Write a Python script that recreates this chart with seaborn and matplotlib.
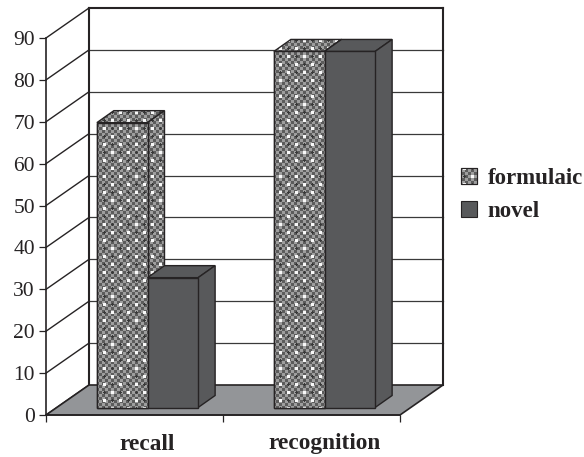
import numpy as np
import pandas as pd
import matplotlib
matplotlib.use("Agg")
import matplotlib.pyplot as plt
from matplotlib.lines import Line2D
from matplotlib.patches import Polygon, Patch
from matplotlib.transforms import Affine2D, IdentityTransform
import seaborn as sns

categories = ["recall", "recognition"]
series = ["formulaic", "novel"]
formulaic_values = [68, 85]
novel_values = [31, 85]
y_ticks = list(range(0, 100, 10))

INK = "#262324"
DARK = "#58595b"
FLOOR = "#939598"

# Oblique projection offsets, in pixels: back wall, bar depth, bar inset on the floor
WALL = (43, 30)
DEPTH = (17, 12)
INSET = (13, 7.5)

sns.set_theme(style="white")
plt.rcParams["font.family"] = ["Liberation Serif", "DejaVu Serif"]

W, H = 584, 457
fig = plt.figure(figsize=(W / 100, H / 100), dpi=100)
ax = fig.add_axes([46 / W, (H - 415) / H, 354 / W, 377 / H])
ax.patch.set_alpha(0)

df = pd.DataFrame({
    "category": categories * 2,
    "series": [series[0]] * 2 + [series[1]] * 2,
    "value": formulaic_values + novel_values,
})
sns.barplot(data=df, x="category", y="value", hue="series", hue_order=series,
            order=categories, palette=["#a0a0a0", DARK], saturation=1,
            width=0.572, gap=0, legend=False, ax=ax)
ax.set_xlim(-0.5, 1.5)
ax.set_ylim(0, 90)
ax.set_yticks(y_ticks)
ax.set_xticks([-0.5, 0.5, 1.5], labels=["", "", ""])
ax.set_xlabel("")
ax.set_ylabel("")
for side in ("top", "right"):
    ax.spines[side].set_visible(False)
for side in ("left", "bottom"):
    ax.spines[side].set_color(INK)
    ax.spines[side].set_linewidth(1.2)
ax.tick_params(axis="both", length=5, width=0.9, color=INK, bottom=True, left=True)
ax.tick_params(axis="y", labelsize=15.5, labelcolor=INK, pad=3)
for i, name in enumerate(categories):
    ax.annotate(name, xy=(i, 0), xycoords=("data", "axes fraction"), xytext=(13, -29),
                textcoords="offset pixels", ha="center", va="center",
                fontsize=16.8, fontweight="bold", color=INK)

fig.canvas.draw()
to_px = ax.transData.transform
pixel = IdentityTransform()


def texture():
    # Fine grey checker with a lattice of light dots, laid out in display pixels
    yy, xx = np.mgrid[0:H, 0:W]
    img = np.where(((xx // 3) + (yy // 3)) % 2 == 0, 0.36, 0.62)
    for ox, oy in ((0, 0), (8, 8)):
        dx = (xx - ox + 8) % 16 - 8
        dy = (yy - oy + 8) % 16 - 8
        img = np.where(dx**2 + dy**2 <= 3, 0.97, img)
    for ox, oy in ((0, 8), (8, 0)):
        dx = (xx - ox + 8) % 16 - 8
        dy = (yy - oy + 8) % 16 - 8
        img = np.where(dx**2 + dy**2 <= 1, 0.22, img)
    return img


TEX = texture()


def textured(path_patch, zorder):
    image = ax.imshow(TEX, cmap="gray", vmin=0, vmax=1, extent=(0, W, 0, H),
                      origin="lower", transform=pixel, interpolation="nearest",
                      aspect="auto", zorder=zorder)
    image.set_clip_path(path_patch)
    ax.set_xlim(-0.5, 1.5)
    ax.set_ylim(0, 90)


def add_poly(points, facecolor, edgecolor=INK, lw=1.0, zorder=2):
    poly = Polygon(points, closed=True, facecolor=facecolor, edgecolor=edgecolor,
                   linewidth=lw, transform=pixel, clip_on=False, zorder=zorder,
                   joinstyle="miter")
    ax.add_patch(poly)
    return poly


def add_line(xs, ys, lw=1.0, color=INK, zorder=1):
    ax.add_line(Line2D(xs, ys, transform=pixel, color=color, linewidth=lw,
                       clip_on=False, zorder=zorder, solid_capstyle="projecting"))


# Side wall diagonals and back wall gridlines
x_left, _ = to_px((-0.5, 0))
x_right, _ = to_px((1.5, 0))
for tick in y_ticks:
    _, y = to_px((0, tick))
    add_line([x_left, x_left + WALL[0]], [y, y + WALL[1]], lw=1.0)
    if tick > 0:
        add_line([x_left + WALL[0], x_right + WALL[0]], [y + WALL[1]] * 2,
                 lw=1.5 if tick == 90 else 0.9, color=INK if tick == 90 else "#3a3a3a")

_, y0 = to_px((0, 0))
_, y90 = to_px((0, 90))
add_line([x_left + WALL[0]] * 2, [y0 + WALL[1], y90 + WALL[1]], lw=1.5)
add_line([x_right + WALL[0]] * 2, [y0 + WALL[1], y90 + WALL[1]], lw=1.5)

# Floor
add_poly([(x_left, y0), (x_right, y0), (x_right + WALL[0], y0 + WALL[1]),
          (x_left + WALL[0], y0 + WALL[1])], FLOOR, lw=1.2, zorder=1.5)

# Bars: the seaborn rectangles form the front faces, shifted onto the floor
bars = sorted(ax.patches[:4], key=lambda p: p.get_x())
shift = ax.transData + Affine2D().translate(*INSET)
for n, bar in enumerate(bars):
    z = 3 + n
    bar.set_transform(shift)
    bar.set_clip_on(False)
    bar.set_edgecolor(INK)
    bar.set_linewidth(1.0)
    bar.set_zorder(z + 0.4)

    (x0, y_low), (x1, y_high) = shift.transform(
        [(bar.get_x(), 0), (bar.get_x() + bar.get_width(), bar.get_height())])
    top = [(x0, y_high), (x1, y_high), (x1 + DEPTH[0], y_high + DEPTH[1]),
           (x0 + DEPTH[0], y_high + DEPTH[1])]
    side = [(x1, y_low), (x1 + DEPTH[0], y_low + DEPTH[1]),
            (x1 + DEPTH[0], y_high + DEPTH[1]), (x1, y_high)]
    is_formulaic = n % 2 == 0
    if is_formulaic:
        for face, zz in ((top, z), (side, z + 0.1)):
            add_poly(face, "none", lw=1.0, zorder=zz + 0.2)
            backing = add_poly(face, "#a0a0a0", edgecolor="none", lw=0, zorder=zz)
            textured(backing, zz + 0.1)
        front = add_poly([(x0, y_low), (x1, y_low), (x1, y_high), (x0, y_high)],
                         "none", edgecolor="none", lw=0, zorder=z + 0.4)
        textured(front, z + 0.5)
        add_poly([(x0, y_low), (x1, y_low), (x1, y_high), (x0, y_high)],
                 "none", lw=1.0, zorder=z + 0.6)
    else:
        add_poly(top, DARK, lw=1.0, zorder=z)
        add_poly(side, DARK, lw=1.0, zorder=z + 0.1)

# Legend
handles = [Patch(facecolor="#a0a0a0", edgecolor=INK, linewidth=0.8, label=series[0]),
           Patch(facecolor=DARK, edgecolor=INK, linewidth=0.8, label=series[1])]
legend = fig.legend(handles=handles, loc="center left", bbox_to_anchor=(452 / W, (H - 195) / H),
                    frameon=False, handlelength=0.7, handleheight=0.7, handletextpad=0.45,
                    labelspacing=0.5, borderpad=0.4, borderaxespad=0,
                    prop={"weight": "bold", "size": 16.5}, labelcolor=INK)
fig.canvas.draw()
swatch = legend.legend_handles[0]
bb = swatch.get_window_extent()
corners = [(bb.x0, bb.y0), (bb.x1, bb.y0), (bb.x1, bb.y1), (bb.x0, bb.y1)]
clip = Polygon(corners, closed=True, transform=pixel, facecolor="none", edgecolor="none")
fig.add_artist(clip)
legend_img = fig.figimage(TEX, cmap="gray", vmin=0, vmax=1, origin="lower", zorder=7)
legend_img.set_clip_path(clip)
fig.add_artist(Polygon(corners, closed=True, transform=pixel, facecolor="none",
                       edgecolor=INK, linewidth=0.8, zorder=8))

fig.savefig("out.png", dpi=100, facecolor="white")
